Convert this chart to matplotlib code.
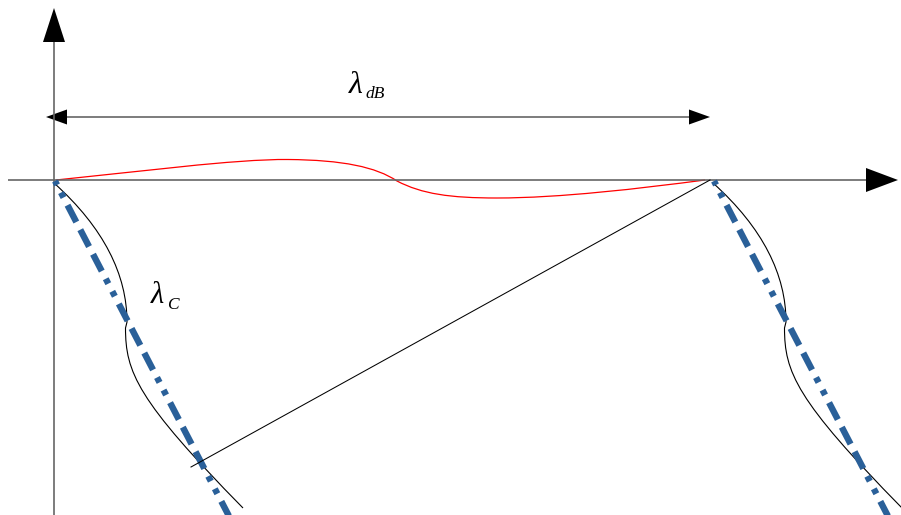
import matplotlib
matplotlib.use("Agg")
import matplotlib.pyplot as plt
from matplotlib.path import Path
from matplotlib.patches import PathPatch
import numpy as np

plt.rcParams['lines.scale_dashes'] = False

# diagram geometry, in picture pixels (x right, y down)
# red curve as cubic bezier segments: start, then (c1, c2, end) per segment
red_start = (56, 180)
red_segments = [
    [(136, 172), (235, 159), (288, 159.5)],
    [(343, 160), (376, 167), (397, 181)],
    [(422, 194), (450, 198), (497, 198)],
    [(560, 198), (640, 188.5), (705, 180)],
]

# black curve left of each pole: upper arc, small jog, lower arc
curve_upper = [(54, 183), (104, 228), (127, 275), (127, 322)]
curve_jog = (125.5, 328)
curve_lower = [(125.5, 372), (137, 400), (243, 508)]

blue_x = [55, 231]
blue_y = [181, 520]

diag_x = [710, 191]
diag_y = [180, 467]

period_shift = 659

fig = plt.figure(figsize=(9.01, 5.15), dpi=100)
ax = fig.add_axes([0, 0, 1, 1])
ax.set_xlim(0, 901)
ax.set_ylim(515, 0)
ax.axis('off')

grey = '#666666'
blue = '#2a6099'

# axes and the double arrow
ax.plot([54, 54], [515, 42], color=grey, lw=1.2, solid_capstyle='butt')
ax.plot([8, 866], [180, 180], color=grey, lw=1.2, solid_capstyle='butt')
ax.plot([67, 689], [117, 117], color=grey, lw=1.2, solid_capstyle='butt')
ax.fill([54, 43, 65], [8, 42, 42], color='black', lw=0)
ax.fill([898, 866, 866], [180, 168, 192], color='black', lw=0)
ax.fill([46, 67, 67], [117, 109.5, 124.5], color='black', lw=0)
ax.fill([710, 689, 689], [117, 109.5, 124.5], color='black', lw=0)

# red curve
verts = [red_start]
codes = [Path.MOVETO]
for seg in red_segments:
    verts += seg
    codes += [Path.CURVE4] * 3
ax.add_patch(PathPatch(Path(verts, codes), fc='none', ec='#ff0000', lw=0.9))

# dash-dot asymptotes and black curves, left and right
dash = (0.8, (4.0, 6.2, 4.0, 6.2, 13.7, 6.2, 13.7, 6.2, 13.7, 6.2))
for s in [0, period_shift]:
    ax.plot(np.array(blue_x) + s, blue_y, color=blue, lw=4.6,
            linestyle=dash, dash_capstyle='butt')
    verts = curve_upper + [curve_jog] + curve_lower
    verts = [(x + s, y) for x, y in verts]
    codes = [Path.MOVETO] + [Path.CURVE4] * 3 + [Path.LINETO] + [Path.CURVE4] * 3
    ax.add_patch(PathPatch(Path(verts, codes), fc='none', ec='black', lw=0.8))

# diagonal
ax.plot(diag_x, diag_y, color='black', lw=0.75)

# labels
serif = dict(family='Liberation Serif', style='italic', va='baseline', ha='left')
ax.text(349, 93, 'λ', fontsize=23, **serif)
ax.text(365.5, 98, 'dB', fontsize=12.5, **serif)
ax.text(151, 303, 'λ', fontsize=22, **serif)
ax.text(167, 309, 'C', fontsize=12.5, **serif)

fig.savefig('out.png', dpi=100)
